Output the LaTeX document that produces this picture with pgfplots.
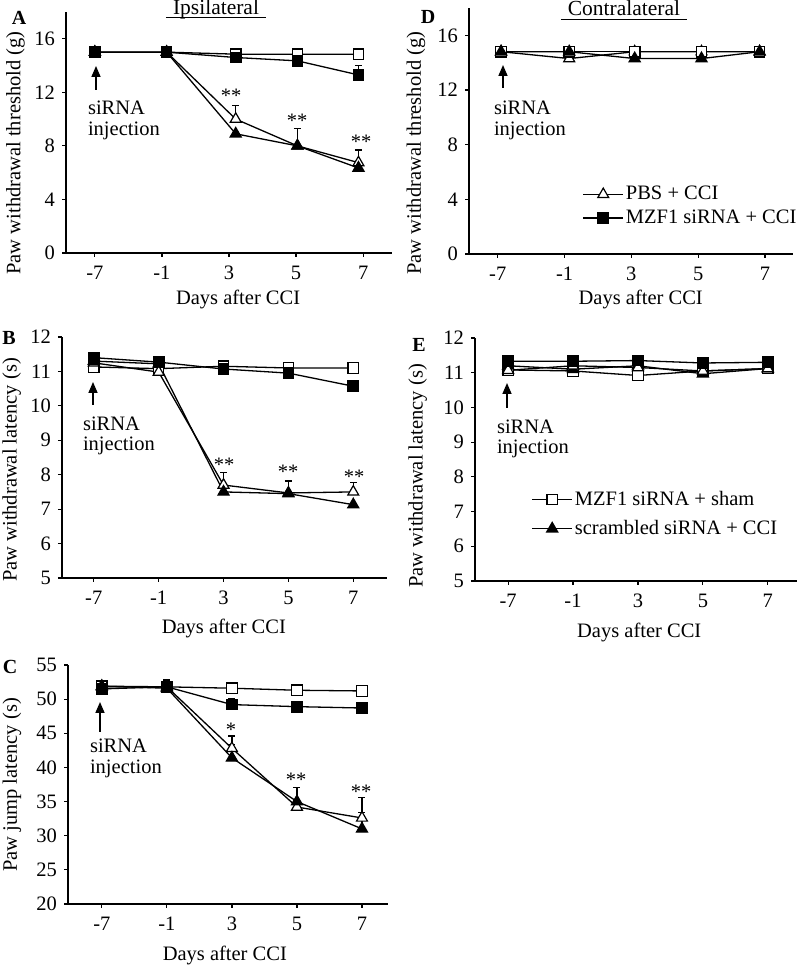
\documentclass[border=0pt]{standalone}
\usepackage{fontspec}
\setmainfont{Liberation Serif}
\usepackage{pgfplots}
\pgfplotsset{compat=1.18}
\usetikzlibrary{arrows.meta}
\newcommand\fs{\fontsize{20.5pt}{24pt}\selectfont}
\pgfplotsset{
  panel/.style={
    scale only axis, anchor=south west,
    axis lines*=left,
    axis line style={line width=1.3pt, black},
    tick align=outside,
    major tick length=4pt,
    tick style={line width=1.2pt, black},
    xtick={0,1,2,3,4},
    xticklabels={-7,-1,3,5,7},
    /pgf/number format/assume math mode=true,
    tick label style={font=\fs},
    xticklabel style={yshift=-2pt},
    label style={font=\fs},
    clip=false,
    legend style={draw=none, fill=none, font=\fs, row sep=3pt, inner sep=0pt},
    legend cell align=left,
    legend image code/.code={\draw[mark repeat=2,mark phase=2,##1] plot coordinates {(0pt,0pt) (20pt,0pt) (40pt,0pt)};},
  },
  ln/.style={black, line width=1.3pt},
  osq/.style={ln, mark=square*, mark size=5.2pt, mark options={fill=white, line width=1.2pt, solid}},
  fsq/.style={ln, mark=square*, mark size=5.2pt, mark options={fill=black, solid}},
  otri/.style={ln, mark=triangle*, mark size=6.3pt, mark options={fill=white, line width=1.2pt, solid}},
  ftri/.style={ln, mark=triangle*, mark size=6.3pt, mark options={fill=black, solid}},
  eb/.style={error bars/y dir=plus, error bars/y explicit,
    error bars/error bar style={line width=1.3pt, black},
    error bars/error mark options={rotate=90, black, line width=1.3pt, mark size=3.5pt}},
}
\begin{document}
\fs
\begin{tikzpicture}
\useasboundingbox (0pt,0pt) rectangle (800pt,965pt);

% ---------------- A ----------------
\begin{axis}[panel, at={(66pt,712pt)}, width=326pt, height=241pt,
  xmin=-0.43, xmax=4.43, ymin=0, ymax=18, ytick={0,4,8,12,16},
  ylabel={Paw withdrawal threshold (g)}, xlabel={Days after CCI},
  ylabel style={at={(axis description cs:-0.155,0.415)}, anchor=center},
  xlabel style={at={(axis description cs:0.528,0)}, anchor=center, yshift=-47pt}]
\addplot[osq] coordinates {(0,15) (1.07,15) (2.1,14.85) (3.02,14.85) (3.93,14.85)};
\addplot[fsq, eb] coordinates {(0,15) +- (0,0) (1.07,15) +- (0,0) (2.1,14.6) +- (0,0) (3.02,14.35) +- (0,0) (3.93,13.3) +- (0,0.7)};
\addplot[otri, eb] coordinates {(0,15) +- (0,0) (1.07,15) +- (0,0) (2.1,10.0) +- (0,1.0) (3.02,8.0) +- (0,1.3) (3.93,6.75) +- (0,0.95)};
\addplot[ftri] coordinates {(0,15) (1.07,15) (2.1,8.9) (3.02,8.0) (3.93,6.35)};
\end{axis}

% ---------------- B ----------------
\begin{axis}[panel, at={(62pt,387pt)}, width=325pt, height=241pt,
  xmin=-0.49, xmax=4.52, ymin=5, ymax=12, ytick={5,6,7,8,9,10,11,12},
  ylabel={Paw withdrawal latency (s)}, xlabel={Days after CCI},
  ylabel style={at={(axis description cs:-0.155,0.448)}, anchor=center},
  xlabel style={at={(axis description cs:0.498,0)}, anchor=center, yshift=-50pt}]
\addplot[osq] coordinates {(0,11.13) (1,11.08) (2,11.15) (3,11.1) (4,11.1)};
\addplot[fsq] coordinates {(0,11.4) (1,11.27) (2,11.07) (3,10.95) (4,10.57)};
\addplot[otri, eb] coordinates {(0,11.25) +- (0,0) (1,10.98) +- (0,0) (2,7.7) +- (0,0.37) (3,7.47) +- (0,0.35) (4,7.5) +- (0,0.27)};
\addplot[ftri] coordinates {(0,11.3) (1,11.22) (2,7.5) (3,7.45) (4,7.13)};
\end{axis}

% ---------------- C ----------------
\begin{axis}[panel, at={(68pt,61pt)}, width=320pt, height=239pt,
  xmin=-0.52, xmax=4.4, ymin=20, ymax=55, ytick={20,25,30,35,40,45,50,55},
  ylabel={Paw jump latency (s)}, xlabel={Days after CCI},
  ylabel style={at={(axis description cs:-0.175,0.498)}, anchor=center},
  xlabel style={at={(axis description cs:0.49,0)}, anchor=center, yshift=-51pt}]
\addplot[osq] coordinates {(0,51.9) (1,51.8) (2,51.6) (3,51.3) (4,51.2)};
\addplot[fsq, eb] coordinates {(0,51.5) +- (0,0) (1,51.8) +- (0,1.0) (2,49.2) +- (0,0.9) (3,48.9) +- (0,0) (4,48.7) +- (0,0)};
\addplot[otri, eb] coordinates {(0,51.8) +- (0,0) (1,51.8) +- (0,0) (2,42.8) +- (0,1.8) (3,34.2) +- (0,1.0) (4,32.6) +- (0,3.0)};
\addplot[ftri, eb] coordinates {(0,51.9) +- (0,0) (1,51.6) +- (0,0) (2,41.4) +- (0,2.0) (3,35.0) +- (0,2.1) (4,31.0) +- (0,2.4)};
\end{axis}

% ---------------- D ----------------
\begin{axis}[panel, at={(469pt,711pt)}, width=324pt, height=246pt,
  xmin=-0.43, xmax=4.42, ymin=0, ymax=18, ytick={0,4,8,12,16},
  ylabel={Paw withdrawal threshold (g)}, xlabel={Days after CCI},
  ylabel style={at={(axis description cs:-0.164,0.41)}, anchor=center},
  xlabel style={at={(axis description cs:0.53,0)}, anchor=center, yshift=-46pt},
  legend style={at={(axis description cs:0.35,0.285)}, anchor=north west}]
\addplot[otri] coordinates {(0.05,14.8) (1.07,14.3) (2.05,14.8) (3.05,14.8) (3.92,14.8)};
\addlegendentry{PBS + CCI}
\addplot[fsq] coordinates {(0.05,14.8) (1.07,14.8) (2.05,14.8) (3.05,14.8) (3.92,14.8)};
\addlegendentry{MZF1 siRNA + CCI}
\addplot[osq, forget plot] coordinates {(0.05,14.8) (1.07,14.8) (2.05,14.8) (3.05,14.8) (3.92,14.8)};
\addplot[ftri, forget plot] coordinates {(0.05,14.8) (1.07,14.8) (2.05,14.3) (3.05,14.3) (3.92,14.8)};
\end{axis}

% ---------------- E ----------------
\begin{axis}[panel, at={(475pt,384pt)}, width=322pt, height=243pt,
  xmin=-0.51, xmax=4.45, ymin=5, ymax=12, ytick={5,6,7,8,9,10,11,12},
  ylabel={Paw withdrawal latency (s)}, xlabel={Days after CCI},
  ylabel style={at={(axis description cs:-0.178,0.432)}, anchor=center},
  xlabel style={at={(axis description cs:0.51,0)}, anchor=center, yshift=-52pt},
  legend style={at={(axis description cs:0.175,0.38)}, anchor=north west, row sep=8pt}]
\addplot[osq] coordinates {(0,11.08) (1,11.05) (2,10.92) (3,11.05) (4,11.12)};
\addlegendentry{MZF1 siRNA + sham}
\addplot[ftri] coordinates {(0,11.2) (1,11.1) (2,11.2) (3,10.97) (4,11.12)};
\addlegendentry{scrambled siRNA + CCI}
\addplot[otri, forget plot] coordinates {(0,11.07) (1,11.2) (2,11.15) (3,11.05) (4,11.12)};
\addplot[fsq, forget plot] coordinates {(0,11.33) (1,11.33) (2,11.35) (3,11.28) (4,11.3)};
\end{axis}

% ---------------- annotations ----------------
\tikzset{inj/.style={line width=1.6pt, -{Triangle[length=11pt,width=9pt]}}}
\draw[inj] (96pt,875pt) -- (96pt,899pt);
\node[anchor=base west] at (81pt,850pt) {siRNA};
\node[anchor=base west] at (81pt,829pt) {injection};
\draw[inj] (93pt,560pt) -- (93pt,583pt);
\node[anchor=base west] at (76pt,534pt) {siRNA};
\node[anchor=base west] at (76pt,514pt) {injection};
\draw[inj] (100pt,233pt) -- (100pt,263pt);
\node[anchor=base west] at (83pt,212pt) {siRNA};
\node[anchor=base west] at (83pt,191pt) {injection};
\draw[inj] (503pt,877pt) -- (503pt,900pt);
\node[anchor=base west] at (487pt,850pt) {siRNA};
\node[anchor=base west] at (487pt,829pt) {injection};
\draw[inj] (507pt,557pt) -- (507pt,582pt);
\node[anchor=base west] at (490pt,531pt) {siRNA};
\node[anchor=base west] at (490pt,511pt) {injection};

% stars
\node at (231pt,869pt) {**};
\node at (297pt,844pt) {**};
\node at (361pt,823pt) {**};
\node at (224pt,500pt) {**};
\node at (288pt,493pt) {**};
\node at (354pt,488pt) {**};
\node at (231pt,235pt) {*};
\node at (296pt,185pt) {**};
\node at (361pt,173pt) {**};

% panel letters
\tikzset{plet/.style={font=\fontsize{20pt}{22pt}\selectfont\bfseries}}
\node[plet] at (19pt,947pt) {A};
\node[plet] at (9pt,627pt) {B};
\node[plet] at (10pt,298pt) {C};
\node[plet] at (428pt,948pt) {D};
\node[plet] at (419pt,620pt) {E};

% titles
\node[anchor=base, font=\fontsize{21.5pt}{26pt}\selectfont] (t1) at (216pt,950pt) {Ipsilateral};
\draw[line width=1pt] (t1.west |- 0,947.5pt) -- (t1.east |- 0,947.5pt);
\node[anchor=base, font=\fontsize{21.5pt}{26pt}\selectfont] (t2) at (624pt,949pt) {Contralateral};
\draw[line width=1pt] (t2.west |- 0,945.5pt) -- (t2.east |- 0,945.5pt);
\end{tikzpicture}
\end{document}
